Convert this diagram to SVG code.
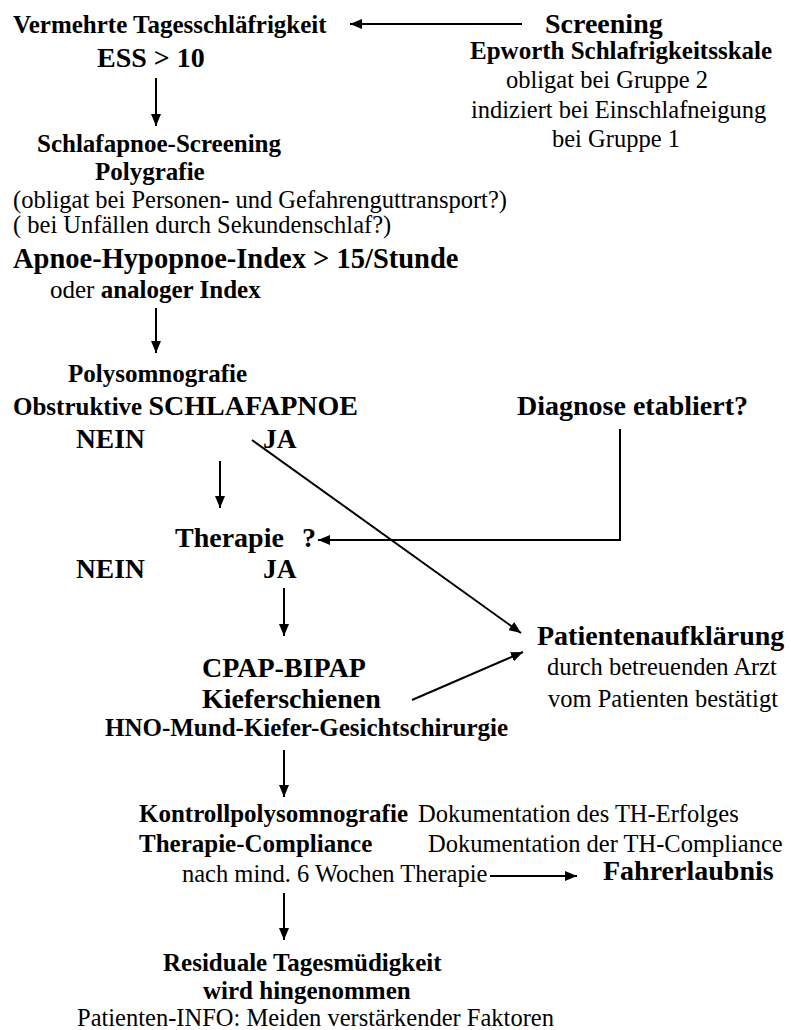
<svg xmlns="http://www.w3.org/2000/svg" width="791" height="1030" viewBox="0 0 791 1030">
  <style>
    text { font-family: "Liberation Serif", "Times New Roman", serif; fill: #000; }
    .b { font-weight: bold; font-size: 25px; }
    .r { font-weight: normal; font-size: 24.5px; }
    .L { font-weight: bold; font-size: 28px; }
    .edge { stroke: #000; stroke-width: 2; fill: none; marker-end: url(#head); }
    .plain { stroke: #000; stroke-width: 2; fill: none; }
  </style>
  <defs>
    <marker id="head" markerUnits="userSpaceOnUse" markerWidth="13" markerHeight="10" refX="12" refY="5" orient="auto">
      <path d="M0,0 L12,5 L0,10 z" fill="#000"/>
    </marker>
  </defs>
  <rect width="791" height="1030" fill="#fff"/>

  <!-- Flow connectors -->
  <g id="connectors">
    <line class="edge" x1="522" y1="24" x2="350" y2="24"/>
    <line class="edge" x1="156" y1="78" x2="156" y2="126"/>
    <line class="edge" x1="156" y1="308" x2="156" y2="353"/>
    <line class="edge" x1="252" y1="440" x2="521" y2="633"/>
    <line class="edge" x1="220" y1="461" x2="220" y2="508"/>
    <polyline class="edge" points="620,429 620,540 318,540"/>
    <line class="edge" x1="284" y1="588" x2="284" y2="636"/>
    <line class="edge" x1="412" y1="700" x2="523" y2="652"/>
    <line class="edge" x1="284" y1="750" x2="284" y2="797"/>
    <line class="edge" x1="490" y1="876" x2="577" y2="876"/>
    <line class="edge" x1="284" y1="893" x2="284" y2="940"/>
  </g>

  <g id="tagesschlaefrigkeit">
    <text class="b" x="13" y="33">Vermehrte Tagesschläfrigkeit</text>
    <text class="L" x="97" y="67">ESS &gt; 10</text>
  </g>

  <g id="screening">
    <text class="L" x="545" y="33">Screening</text>
    <text class="b" x="470" y="59">Epworth Schlafrigkeitsskale</text>
    <text class="r" x="506" y="88">obligat bei Gruppe 2</text>
    <text class="r" x="471" y="118">indiziert bei Einschlafneigung</text>
    <text class="r" x="552" y="147">bei Gruppe 1</text>
  </g>

  <g id="polygrafie">
    <text class="b" x="37" y="152">Schlafapnoe-Screening</text>
    <text class="b" x="95" y="180">Polygrafie</text>
    <text class="r" x="13" y="208">(obligat bei Personen- und Gefahrenguttransport?)</text>
    <text class="r" x="13" y="233">( bei Unfällen durch Sekundenschlaf?)</text>
    <text class="L" x="13" y="268" style="font-size:28.5px">Apnoe-Hypopnoe-Index &gt; 15/Stunde</text>
    <text class="b" x="50" y="298"><tspan style="font-weight:normal">oder</tspan> analoger Index</text>
  </g>

  <g id="polysomnografie">
    <text class="b" x="68" y="382">Polysomnografie</text>
    <text class="b" x="13" y="415">Obstruktive <tspan class="L">SCHLAFAPNOE</tspan></text>
    <text class="L" x="76" y="448" style="font-size:27.5px">NEIN</text>
    <text class="L" x="263" y="448" style="font-size:27.5px">JA</text>
  </g>

  <g id="diagnose">
    <text class="L" x="517" y="415">Diagnose etabliert?</text>
  </g>

  <g id="therapie">
    <text class="L" x="175" y="547">Therapie</text>
    <text class="L" x="302" y="547">?</text>
    <text class="L" x="76" y="578" style="font-size:27.5px">NEIN</text>
    <text class="L" x="263" y="578" style="font-size:27.5px">JA</text>
  </g>

  <g id="behandlung">
    <text class="L" x="202" y="677">CPAP-BIPAP</text>
    <text class="L" x="202" y="708">Kieferschienen</text>
    <text class="b" x="105" y="736">HNO-Mund-Kiefer-Gesichtschirurgie</text>
  </g>

  <g id="patientenaufklaerung">
    <text class="L" x="537" y="645">Patientenaufklärung</text>
    <text class="r" x="547" y="675">durch betreuenden Arzt</text>
    <text class="r" x="548" y="707">vom Patienten bestätigt</text>
  </g>

  <g id="kontrolle">
    <text class="b" x="139" y="822">Kontrollpolysomnografie</text>
    <text class="b" x="139" y="852">Therapie-Compliance</text>
    <text class="r" x="182" y="882">nach mind. 6 Wochen Therapie</text>
  </g>

  <g id="dokumentation">
    <text class="r" x="418" y="822">Dokumentation des TH-Erfolges</text>
    <text class="r" x="428" y="852">Dokumentation der TH-Compliance</text>
  </g>

  <g id="fahrerlaubnis">
    <text class="L" x="603" y="880">Fahrerlaubnis</text>
  </g>

  <g id="residual">
    <text class="b" x="163" y="971">Residuale Tagesmüdigkeit</text>
    <text class="b" x="203" y="999">wird hingenommen</text>
    <text class="r" x="77" y="1026">Patienten-INFO: Meiden verstärkender Faktoren</text>
  </g>
</svg>
